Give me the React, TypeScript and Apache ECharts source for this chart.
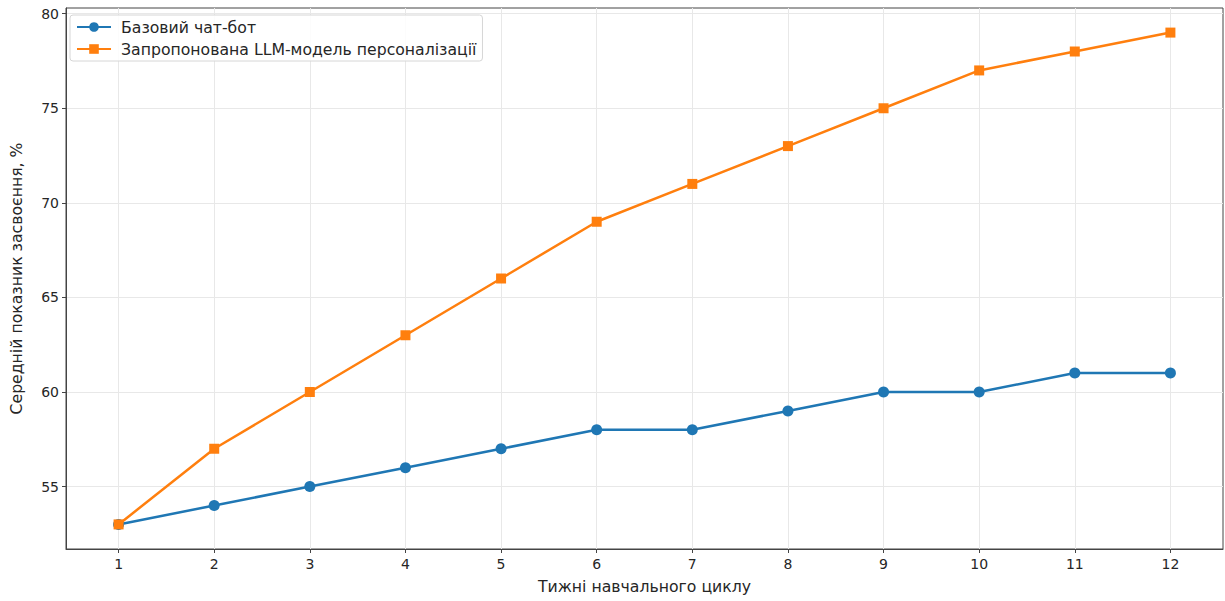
import React, { useEffect, useRef } from "react";
import * as echarts from "echarts";

const weeks = [1, 2, 3, 4, 5, 6, 7, 8, 9, 10, 11, 12];
const baseline = [53, 54, 55, 56, 57, 58, 58, 59, 60, 60, 61, 61];
const proposed = [53, 57, 60, 63, 66, 69, 71, 73, 75, 77, 78, 79];
const yTicks = [55, 60, 65, 70, 75, 80];
const seriesNames = ["Базовий чат-бот", "Запропонована LLM-модель персоналізації"];
const xTitle = "Тижні навчального циклу";
const yTitle = "Середній показник засвоєння, %";

const FONT = "DejaVu Sans";
const TXT = "#262626";
const BIG = 15.7;

export default function App() {
  const ref = useRef<HTMLDivElement>(null);
  useEffect(() => {
    if (!ref.current) return;
    const chart = echarts.init(ref.current, null, { renderer: "svg" });
    const gridLine = { color: "#e8e8e8", width: 1, type: "solid" as const };
    chart.setOption({
      animation: false,
      textStyle: { fontFamily: FONT },
      grid: {
        left: 62,
        right: 2,
        top: 8,
        bottom: 52,
        show: true,
        borderColor: "#444",
        borderWidth: 1,
        backgroundColor: "#fff",
      },
      legend: {
        orient: "vertical",
        left: 70,
        top: 15,
        itemWidth: 34,
        itemHeight: 12,
        itemGap: 6,
        padding: [4, 6, 4, 6],
        backgroundColor: "rgba(255,255,255,0.85)",
        borderColor: "#d6d6d6",
        borderWidth: 1,
        borderRadius: 3,
        textStyle: { fontFamily: FONT, fontSize: BIG, color: TXT, padding: [0, 0, 0, 5] },
        data: seriesNames,
      },
      xAxis: {
        type: "value",
        min: 0.45,
        max: 12.55,
        name: xTitle,
        nameLocation: "middle",
        nameGap: 29,
        nameTextStyle: { fontFamily: FONT, fontSize: BIG, color: TXT },
        axisLine: { show: true, lineStyle: { color: "#444", width: 1 } },
        axisTick: { show: true, customValues: weeks, length: 4, lineStyle: { color: "#444" } },
        axisLabel: {
          customValues: weeks,
          fontFamily: FONT,
          fontSize: 14,
          color: TXT,
          margin: 8,
        },
        splitLine: { show: false },
      },
      yAxis: {
        type: "value",
        min: 51.7,
        max: 80.3,
        name: yTitle,
        nameLocation: "middle",
        nameGap: 42,
        nameTextStyle: { fontFamily: FONT, fontSize: BIG, color: TXT },
        axisLine: { show: true, lineStyle: { color: "#444", width: 1 } },
        axisTick: { show: true, customValues: yTicks, length: 4, lineStyle: { color: "#444" } },
        axisLabel: {
          customValues: yTicks,
          fontFamily: FONT,
          fontSize: 14,
          color: TXT,
          margin: 7,
        },
        splitLine: { show: false },
      },
      series: [
        {
          name: "grid",
          type: "line",
          data: [],
          silent: true,
          z: 0,
          markLine: {
            silent: true,
            z: 0,
            symbol: "none",
            label: { show: false },
            lineStyle: gridLine,
            emphasis: { disabled: true },
            data: [
              ...weeks.map((w) => ({ xAxis: w })),
              ...yTicks.map((v) => ({ yAxis: v })),
            ],
          },
        },
        {
          name: seriesNames[0],
          type: "line",
          data: weeks.map((w, i) => [w, baseline[i]]),
          color: "#1f77b4",
          symbol: "circle",
          symbolSize: 11,
          showAllSymbol: true,
          lineStyle: { width: 2.5, color: "#1f77b4" },
          itemStyle: { color: "#1f77b4" },
          z: 3,
        },
        {
          name: seriesNames[1],
          type: "line",
          data: weeks.map((w, i) => [w, proposed[i]]),
          color: "#ff7f0e",
          symbol: "rect",
          symbolSize: 10,
          showAllSymbol: true,
          lineStyle: { width: 2.5, color: "#ff7f0e" },
          itemStyle: { color: "#ff7f0e" },
          z: 4,
        },
      ],
    });
    return () => chart.dispose();
  }, []);
  return (
    <div
      ref={ref}
      style={{ position: "absolute", left: 0, top: 0, width: 1225, height: 601 }}
    />
  );
}
